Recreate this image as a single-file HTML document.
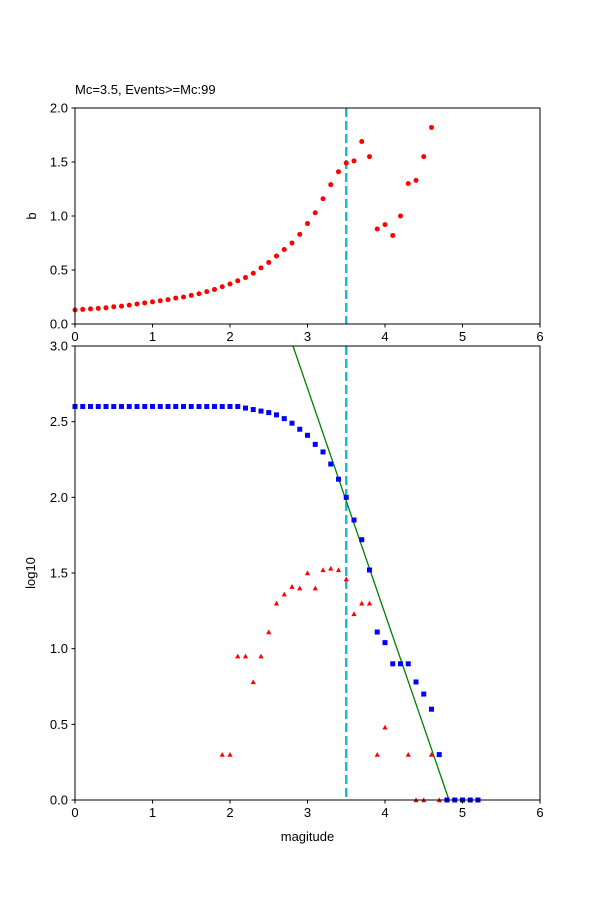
<!DOCTYPE html>
<html><head><meta charset="utf-8"><style>body{margin:0;background:#fff}svg{display:block}text{font-family:"Liberation Sans","DejaVu Sans",sans-serif;font-size:13px;fill:#000}</style></head>
<body>
<svg id="s" width="600" height="900" xmlns="http://www.w3.org/2000/svg">
<defs>
<clipPath id="c1"><rect x="75" y="108" width="465" height="216"/></clipPath>
<clipPath id="c2"><rect x="75" y="346" width="465" height="454"/></clipPath>
</defs>
<rect width="600" height="900" fill="#fff"/>
<g id="gtop" clip-path="url(#c1)"></g>
<g id="gbot" clip-path="url(#c2)"></g>
<g id="gm"></g>
<g id="gaxes"></g>
</svg>
<script>
(function(){
var NS="http://www.w3.org/2000/svg";
function el(p,t,a,txt){var e=document.createElementNS(NS,t);for(var k in a)e.setAttribute(k,a[k]);if(txt!==undefined)e.textContent=txt;p.appendChild(e);return e;}
var X=function(m){return 75+77.5*m;};
var gTop=document.getElementById('gtop'),gBot=document.getElementById('gbot'),gM=document.getElementById('gm'),gAx=document.getElementById('gaxes');
var b=[.13,.135,.14,.145,.15,.16,.165,.175,.185,.195,.205,.215,.225,.24,.25,.265,.28,.3,.32,.345,.37,.4,.43,.47,.52,.57,.63,.69,.75,.83,.93,1.03,1.16,1.29,1.41,1.49,1.51,1.69,1.55,.88,.92,.82,1.0,1.3,1.33,1.55,1.82];
el(gTop,'line',{x1:346.25,y1:108,x2:346.25,y2:324,stroke:'#17becf','stroke-width':2.5,'stroke-dasharray':'9,4'});
b.forEach(function(v,i){el(gM,'circle',{cx:X(i/10),cy:324-108*v,r:2.5,fill:'#f00'});});
var YB=function(v){return 800-151.33*v;};
el(gBot,'line',{x1:346.25,y1:346,x2:346.25,y2:800,stroke:'#17becf','stroke-width':2.5,'stroke-dasharray':'9,4'});
el(gBot,'line',{x1:293,y1:346,x2:449,y2:800,stroke:'green','stroke-width':1.3});
var bl={};for(var i=0;i<=21;i++)bl[i]=2.6;
var bv=[2.59,2.58,2.57,2.56,2.545,2.52,2.49,2.45,2.41,2.35,2.3,2.22,2.12,2.0,1.85,1.72,1.52,1.11,1.04,.9,.9,.9,.78,.7,.6,.3,0,0,0,0,0];
bv.forEach(function(v,j){bl[22+j]=v;});
var rt={19:.3,20:.3,21:.95,22:.95,23:.78,24:.95,25:1.11,26:1.3,27:1.36,28:1.41,29:1.4,30:1.5,31:1.4,32:1.52,33:1.53,34:1.52,35:1.46,36:1.23,37:1.3,38:1.3,39:.3,40:.48,43:.3,44:0,45:0,46:.3,47:0};
for(var k in rt){var x=X(k/10),y=YB(rt[k]);el(gM,'polygon',{points:(x-2.6)+','+(y+2.2)+' '+(x+2.6)+','+(y+2.2)+' '+x+','+(y-2.6),fill:'#f00'});}
for(var k2 in bl){var x2=X(k2/10),y2=YB(bl[k2]);el(gM,'rect',{x:x2-2.5,y:y2-2.5,width:5,height:5,fill:'#00f'});}
function frame(y0,y1,ticks,yfun){
 el(gAx,'rect',{x:75,y:y0,width:465,height:y1-y0,fill:'none',stroke:'#000','stroke-width':1});
 for(var i=0;i<=6;i++){var x=X(i);el(gAx,'line',{x1:x,y1:y1,x2:x,y2:y1+3.5,stroke:'#000'});el(gAx,'text',{x:x,y:y1+17,'text-anchor':'middle'},String(i));}
 ticks.forEach(function(t){var y=yfun(t);el(gAx,'line',{x1:71.5,y1:y,x2:75,y2:y,stroke:'#000'});el(gAx,'text',{x:68,y:y+4.5,'text-anchor':'end'},t.toFixed(1));});
}
frame(108,324,[0,.5,1,1.5,2],function(v){return 324-108*v;});
frame(346,800,[0,.5,1,1.5,2,2.5,3],YB);
el(gAx,'text',{x:75,y:94},'Mc=3.5, Events>=Mc:99');
el(gAx,'text',{x:36,y:216,transform:'rotate(-90 36 216)','text-anchor':'middle'},'b');
el(gAx,'text',{x:35,y:573,transform:'rotate(-90 35 573)','text-anchor':'middle'},'log10');
el(gAx,'text',{x:307.5,y:841,'text-anchor':'middle'},'magitude');
})();
</script>
</body></html>
